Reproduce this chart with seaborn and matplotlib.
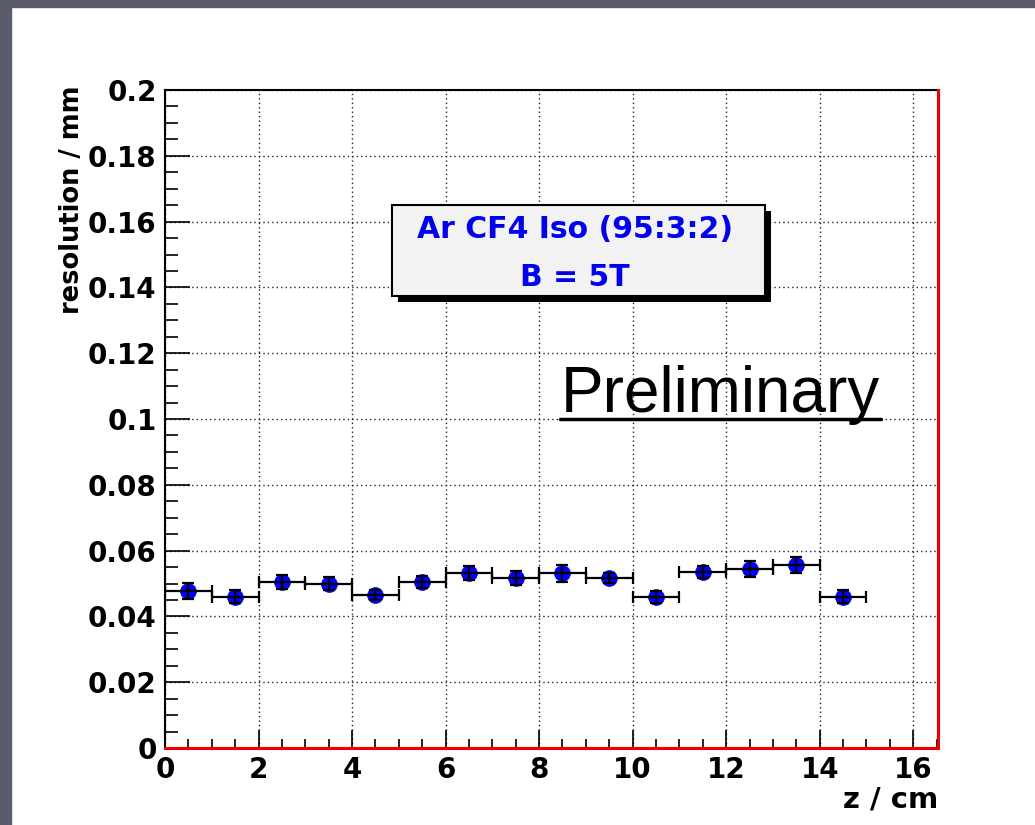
import numpy as np
import pandas as pd
import matplotlib
matplotlib.use("Agg")
import matplotlib.pyplot as plt
from matplotlib.patches import Rectangle
from matplotlib.lines import Line2D
from matplotlib.ticker import MultipleLocator, FuncFormatter
import seaborn as sns

# ---- data ----
z_cm = [0.5, 1.5, 2.5, 3.5, 4.5, 5.5, 6.5, 7.5, 8.5, 9.5, 10.5, 11.5, 12.5, 13.5, 14.5]
z_halfwidth = [0.5] * 15
resolution_mm = [0.0478, 0.0460, 0.0504, 0.0500, 0.0464, 0.0504, 0.0531, 0.0517,
                 0.0531, 0.0517, 0.0460, 0.0535, 0.0543, 0.0557, 0.0460]
resolution_err = [0.0024, 0.0019, 0.0021, 0.0020, 0.0015, 0.0019, 0.0021, 0.0021,
                  0.0026, 0.0016, 0.0018, 0.0017, 0.0024, 0.0025, 0.0020]
legend_lines = ["Ar CF4 Iso (95:3:2)", "B = 5T"]
x_label = "z / cm"
y_label = "resolution / mm"
stamp = "Preliminary"

df = pd.DataFrame({"z": z_cm, "res": resolution_mm})

sns.set_style("white")
plt.rcParams["font.family"] = ["DejaVu Sans"]

W, H = 1035, 825
fig = plt.figure(figsize=(W / 100, H / 100), dpi=100)
fig.patch.set_facecolor("white")

def fx(px):
    return px / W

def fy(py):
    return 1 - py / H

# slide background strips
slide = "#5a5c6c"
fig.patches.append(Rectangle((0, fy(7)), 1, 7 / H, transform=fig.transFigure,
                             color=slide, zorder=0))
fig.patches.append(Rectangle((0, 0), 11 / W, 1, transform=fig.transFigure,
                             color=slide, zorder=0))

ax = fig.add_axes([fx(165), fy(748), fx(938) - fx(165), fy(90) - fy(748)])
ax.set_facecolor("white")

ax.set_xlim(0, 16.53)
ax.set_ylim(0, 0.2)

# grid
ax.xaxis.set_major_locator(MultipleLocator(2))
ax.xaxis.set_minor_locator(MultipleLocator(0.5))
ax.yaxis.set_major_locator(MultipleLocator(0.02))
ax.yaxis.set_minor_locator(MultipleLocator(0.005))
ax.grid(True, which="major", color="#222222", linestyle=(0, (1, 2.2)), linewidth=1.0)
ax.set_axisbelow(True)

# markers
sns.scatterplot(data=df, x="z", y="res", ax=ax, color="#0000ff", s=130,
                edgecolor="#0000cc", linewidth=0.5, zorder=3, legend=False)
ax.errorbar(z_cm, resolution_mm, xerr=z_halfwidth, yerr=resolution_err, fmt="none",
            ecolor="black", elinewidth=1.6, capsize=4, capthick=1.6, zorder=4)

# spines
for s in ["top", "left"]:
    ax.spines[s].set_color("black")
    ax.spines[s].set_linewidth(1.5)
for s in ["bottom", "right"]:
    ax.spines[s].set_color("#ee0000")
    ax.spines[s].set_linewidth(2.2)
    ax.spines[s].set_zorder(5)

# ticks
ax.tick_params(axis="x", which="major", direction="in", length=13, width=1.2,
               color="black", bottom=True, top=False, pad=6)
ax.tick_params(axis="x", which="minor", direction="in", length=6.5, width=1.2,
               color="black", bottom=True, top=False)
ax.tick_params(axis="y", which="major", direction="in", length=18, width=1.2,
               color="black", left=True, right=False, pad=6)
ax.tick_params(axis="y", which="minor", direction="in", length=9, width=1.2,
               color="black", left=True, right=False)

ax.xaxis.set_major_formatter(FuncFormatter(lambda v, p: f"{round(v, 3):g}"))
ax.yaxis.set_major_formatter(FuncFormatter(lambda v, p: f"{round(v, 3):g}"))
for lab in ax.get_xticklabels() + ax.get_yticklabels():
    lab.set_fontsize(20)
    lab.set_fontweight("bold")
    lab.set_color("black")

ax.set_xlabel("")
ax.set_ylabel("")
fig.text(fx(938), fy(799), x_label, ha="right", va="center", fontsize=21,
         fontweight="bold", color="black")
fig.text(fx(72), fy(85), y_label, ha="center", va="top", rotation=90,
         fontsize=18.5, fontweight="bold", color="black")

# legend-like box with shadow
bx0, by0, bx1, by1 = 392, 205, 765, 296
fig.patches.append(Rectangle((fx(bx0 + 6), fy(by1 + 6)), fx(bx1) - fx(bx0),
                             fy(by0) - fy(by1), transform=fig.transFigure,
                             facecolor="black", edgecolor="none", zorder=6))
fig.patches.append(Rectangle((fx(bx0), fy(by1)), fx(bx1) - fx(bx0),
                             fy(by0) - fy(by1), transform=fig.transFigure,
                             facecolor="#f2f2f2", edgecolor="black", linewidth=1.5,
                             zorder=7))
fig.text(fx(575), fy(229), legend_lines[0], ha="center", va="center", fontsize=21.5,
         fontweight="bold", color="#0000ee", zorder=8)
fig.text(fx(575), fy(277), legend_lines[1], ha="center", va="center", fontsize=21.5,
         fontweight="bold", color="#0000ee", zorder=8)

# Preliminary stamp
fig.text(fx(561), fy(412), stamp, ha="left", va="baseline", fontsize=46,
         family=["Liberation Sans", "DejaVu Sans"], color="black", zorder=8)
fig.lines.append(Line2D([fx(560), fx(881)], [fy(419), fy(419)],
                        transform=fig.transFigure, color="black", linewidth=2.5,
                        zorder=8))

fig.savefig("out.png", dpi=100, facecolor=fig.get_facecolor())
